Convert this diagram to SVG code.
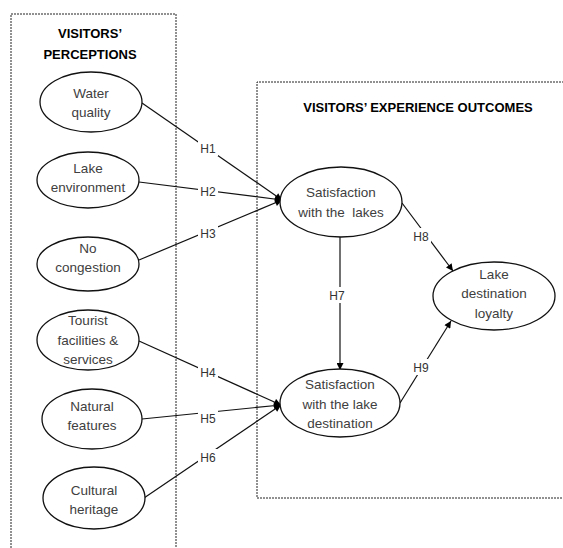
<svg xmlns="http://www.w3.org/2000/svg" width="563" height="548" viewBox="0 0 563 548">
<defs>
<marker id="ah" viewBox="0 0 10 10" refX="10" refY="5" markerWidth="8" markerHeight="7" markerUnits="userSpaceOnUse" orient="auto">
<path d="M0,0 L10,5 L0,10 z" fill="#000"/>
</marker>
</defs>
<style>
.box{fill:none;stroke:#222;stroke-width:1;stroke-dasharray:2,1}
.node ellipse{fill:#fff;stroke:#111;stroke-width:1.3}
.node text{font-family:"Liberation Sans",Arial,sans-serif;font-size:13.5px;fill:#404040;text-anchor:middle}
.title{font-family:"Liberation Sans",Arial,sans-serif;font-size:13px;font-weight:bold;fill:#000;text-anchor:middle}
.edge{stroke:#111;stroke-width:1.2;fill:none;marker-end:url(#ah)}
.lbl rect{fill:#fff}
.lbl text{font-family:"Liberation Sans",Arial,sans-serif;font-size:12px;fill:#333;text-anchor:middle}
</style>
<rect width="563" height="548" fill="#fff"/>
<g id="perceptions-box">
<path class="box" d="M11,560 L11,14 L176,14 L176,560"/>
<text class="title" x="90" y="38">VISITORS’</text>
<text class="title" x="90" y="59">PERCEPTIONS</text>
</g>
<g id="outcomes-box">
<path class="box" d="M570,82 L257,82 L257,498 L570,498"/>
<text class="title" x="418" y="112">VISITORS’ EXPERIENCE OUTCOMES</text>
</g>
<g id="connectors">
<line class="edge" x1="142" y1="103" x2="282" y2="200"/>
<line class="edge" x1="139" y1="182" x2="282" y2="200"/>
<line class="edge" x1="139" y1="260" x2="282" y2="200"/>
<line class="edge" x1="139" y1="341" x2="281" y2="405"/>
<line class="edge" x1="142" y1="419" x2="281" y2="405"/>
<line class="edge" x1="144" y1="498" x2="281" y2="405"/>
<line class="edge" x1="340" y1="237" x2="340" y2="370"/>
<line class="edge" x1="402" y1="203" x2="453" y2="271"/>
<line class="edge" x1="400" y1="403" x2="451" y2="321"/>
<g class="lbl">
<rect x="198" y="140" width="20" height="16"/><text x="208" y="153">H1</text>
<rect x="198" y="183" width="20" height="16"/><text x="208" y="196">H2</text>
<rect x="198" y="225" width="20" height="16"/><text x="208" y="238">H3</text>
<rect x="198" y="364" width="20" height="16"/><text x="208" y="377">H4</text>
<rect x="198" y="410" width="20" height="16"/><text x="208" y="423">H5</text>
<rect x="198" y="449" width="20" height="16"/><text x="208" y="462">H6</text>
<rect x="327" y="287" width="20" height="16"/><text x="337" y="300">H7</text>
<rect x="411" y="228" width="20" height="16"/><text x="421" y="241">H8</text>
<rect x="411" y="359" width="20" height="16"/><text x="421" y="372">H9</text>
</g>
</g>
<g id="water-quality" class="node">
<ellipse cx="91" cy="102" rx="51" ry="30"/>
<text x="91" y="98">Water</text><text x="91" y="117">quality</text>
</g>
<g id="lake-environment" class="node">
<ellipse cx="88" cy="180" rx="51" ry="28"/>
<text x="88" y="173">Lake</text><text x="88" y="192">environment</text>
</g>
<g id="no-congestion" class="node">
<ellipse cx="88" cy="264" rx="51" ry="27"/>
<text x="88" y="253">No</text><text x="88" y="272">congestion</text>
</g>
<g id="tourist-facilities" class="node">
<ellipse cx="88" cy="340" rx="51" ry="30"/>
<text x="88" y="325">Tourist</text><text x="88" y="345">facilities &amp;</text><text x="88" y="364">services</text>
</g>
<g id="natural-features" class="node">
<ellipse cx="92" cy="419" rx="50" ry="30"/>
<text x="92" y="411">Natural</text><text x="92" y="430">features</text>
</g>
<g id="cultural-heritage" class="node">
<ellipse cx="94" cy="498" rx="51" ry="31"/>
<text x="94" y="495">Cultural</text><text x="94" y="514">heritage</text>
</g>
<g id="satisfaction-lakes" class="node">
<ellipse cx="341" cy="202" rx="61" ry="35"/>
<text x="341" y="197">Satisfaction</text><text x="341" y="217">with the&#160; lakes</text>
</g>
<g id="satisfaction-destination" class="node">
<ellipse cx="340" cy="403" rx="60" ry="34"/>
<text x="340" y="389">Satisfaction</text><text x="340" y="409">with the lake</text><text x="340" y="428">destination</text>
</g>
<g id="destination-loyalty" class="node">
<ellipse cx="494" cy="296" rx="61" ry="34"/>
<text x="494" y="279">Lake</text><text x="494" y="298">destination</text><text x="494" y="318">loyalty</text>
</g>
</svg>
